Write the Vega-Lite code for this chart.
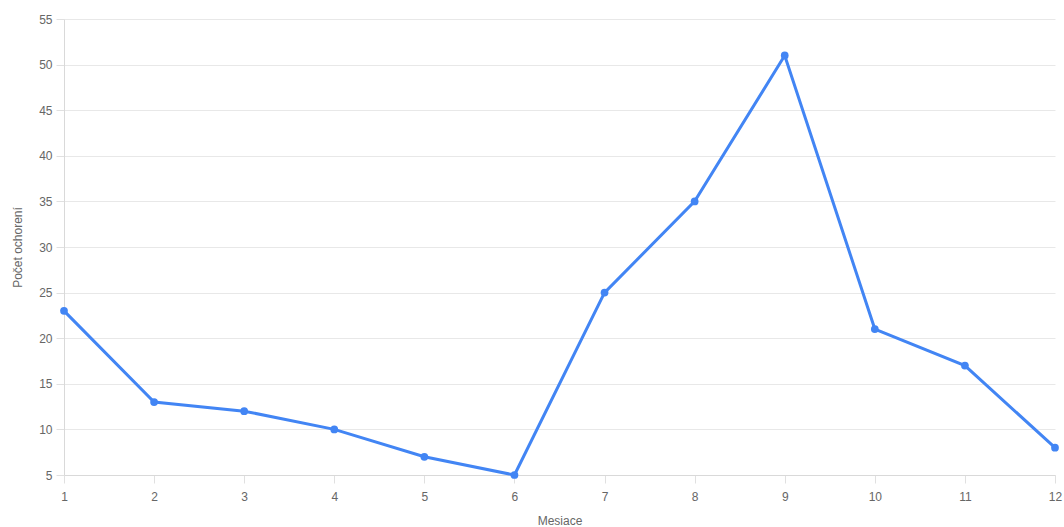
{
  "$schema": "https://vega.github.io/schema/vega-lite/v6.json",
  "width": 991,
  "height": 456,
  "autosize": {"type": "none"},
  "padding": {"left": 64, "top": 19, "right": 9, "bottom": 52},
  "background": "white",
  "config": {
    "view": {"stroke": null},
    "font": "Liberation Sans",
    "axis": {
      "labelFont": "Liberation Sans",
      "titleFont": "Liberation Sans",
      "labelColor": "#666666",
      "titleColor": "#666666",
      "labelFontSize": 12,
      "titleFontSize": 12,
      "titleFontWeight": "normal",
      "gridColor": "#e8e8e8",
      "domainColor": "#d9d9d9",
      "tickColor": "#e0e0e0"
    }
  },
  "data": {
    "values": [
      {"mesiac": 1, "pocet": 23},
      {"mesiac": 2, "pocet": 13},
      {"mesiac": 3, "pocet": 12},
      {"mesiac": 4, "pocet": 10},
      {"mesiac": 5, "pocet": 7},
      {"mesiac": 6, "pocet": 5},
      {"mesiac": 7, "pocet": 25},
      {"mesiac": 8, "pocet": 35},
      {"mesiac": 9, "pocet": 51},
      {"mesiac": 10, "pocet": 21},
      {"mesiac": 11, "pocet": 17},
      {"mesiac": 12, "pocet": 8}
    ]
  },
  "mark": {"type": "line", "color": "#4285f4", "strokeWidth": 3, "point": {"filled": true, "size": 60, "color": "#4285f4", "opacity": 1}},
  "encoding": {
    "x": {
      "field": "mesiac",
      "type": "quantitative",
      "scale": {"domain": [1, 12], "nice": false, "zero": false},
      "axis": {"title": "Mesiace", "values": [1,2,3,4,5,6,7,8,9,10,11,12], "format": "d", "grid": false, "tickSize": 8, "labelPadding": 8, "labelFlush": false, "titlePadding": 13}
    },
    "y": {
      "field": "pocet",
      "type": "quantitative",
      "scale": {"domain": [5, 55], "nice": false, "zero": false},
      "axis": {"title": "Počet ochorení", "values": [5,10,15,20,25,30,35,40,45,50,55], "tickSize": 8, "labelPadding": 4, "labelFlush": false, "titlePadding": 14, "domainColor": "#d9d9d9"}
    }
  }
}
